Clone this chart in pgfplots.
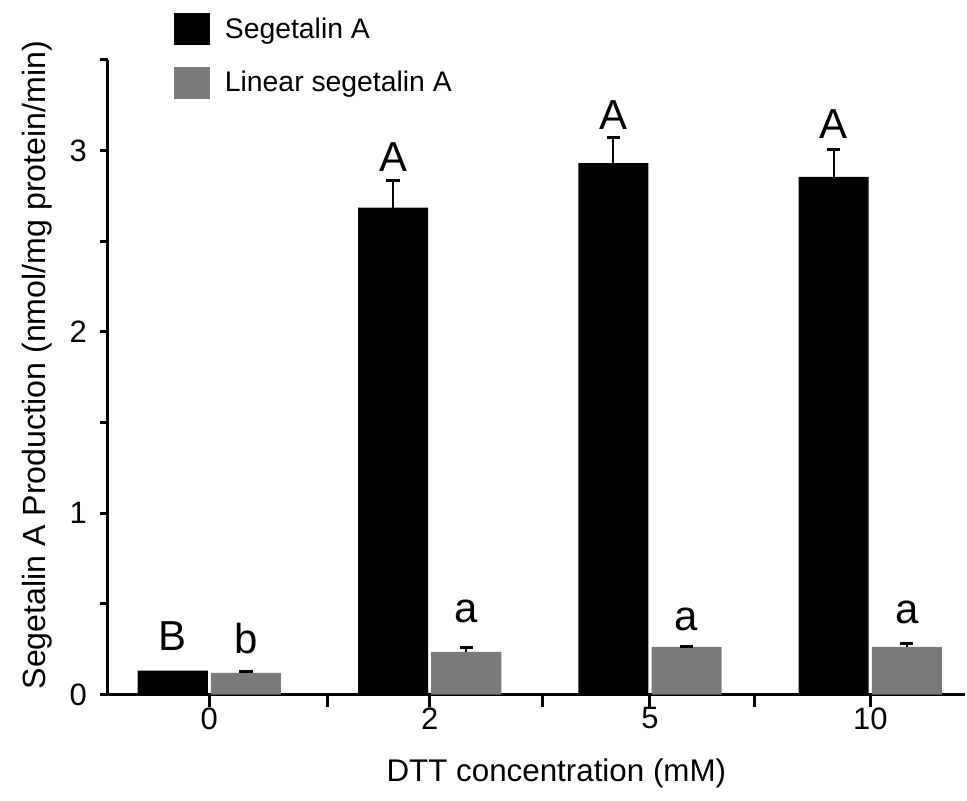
\documentclass[border=0pt]{standalone}
\usepackage{pgfplots}
\pgfplotsset{compat=1.18}
\usepackage{fontspec}
\setmainfont{Liberation Sans}
\usetikzlibrary{calc}
\definecolor{bargray}{RGB}{122,122,122}
\begin{document}
\begin{tikzpicture}
\begin{axis}[
  scale only axis, width=429.5pt, height=318pt,
  xmin=-0.461, xmax=3.43, ymin=0, ymax=3.5,
  ybar,
  axis lines*=left,
  axis line style={line width=1.5pt, black},
  tick align=outside,
  tick style={line width=1.5pt, black},
  xtick={0.535,1.51,2.475}, xticklabels={},
  major x tick style={/pgfplots/major tick length=6pt},
  extra x ticks={0,1,2,3}, extra x tick labels={0,2,5,10},
  extra x tick style={major tick length=0pt},
  ytick={0,1,2,3}, minor ytick={0.5,1.5,2.5,3.5},
  major tick length=4pt, minor tick length=4pt,
  /pgf/number format/assume math mode=true,
  tick label style={font=\fontsize{15.5}{18}\selectfont},
  xticklabel style={yshift=-3pt},
  yticklabel style={xshift=-3pt},
  xlabel={DTT concentration (mM)},
  ylabel={Segetalin A Production (nmol/mg protein/min)},
  xlabel style={font=\fontsize{15.7}{18}\selectfont, yshift=-4pt, xshift=10pt},
  ylabel style={font=\fontsize{16.1}{18}\selectfont, yshift=2pt, xshift=6pt},
  legend style={draw=none, fill=none, at={(0,1)}, anchor=north west,
    xshift=33pt, yshift=23.5pt, row sep=11pt, column sep=7.5pt, inner sep=0pt,
    font=\fontsize{14.2}{16}\selectfont,
    nodes={inner sep=0pt, anchor=west}},
  legend cell align=left,
  clip=false,
]
\addplot[fill=black, draw=none, bar width=0.318, bar shift=-0.166,
  legend image code/.code={\fill[black] (0pt,-8pt) rectangle (18pt,8pt);}]
  coordinates {(0,0.132) (1,2.685) (2,2.93) (3,2.855)};
\addlegendentry{Segetalin A}
\addplot[fill=bargray, draw=none, bar width=0.318, bar shift=0.166,
  legend image code/.code={\fill[bargray] (0pt,-8pt) rectangle (18pt,8pt);},
  error bars/.cd, y dir=plus, y explicit,
  error bar style={line width=1pt, black},
  error mark options={rotate=90, mark size=3.3pt, line width=1.5pt, black}]
  coordinates {(0,0.12) +- (0,0.008) (1,0.235) +- (0,0.022) (2,0.263) +- (0,0.004) (3,0.263) +- (0,0.018)};
\addlegendentry{Linear segetalin A}
\addplot[forget plot, fill=none, draw=none, bar width=0.318, bar shift=-0.166,
  error bars/.cd, y dir=plus, y explicit,
  error bar style={line width=1pt, black},
  error mark options={rotate=90, mark size=3.3pt, line width=1.5pt, black}]
  coordinates {(1,2.685) +- (0,0.15) (2,2.93) +- (0,0.14) (3,2.855) +- (0,0.15)};
\begin{scope}[every node/.style={font=\fontsize{21}{24}\selectfont, inner sep=0pt}]
\node at (axis cs:-0.166,0.325) {B};
\node at (axis cs:0.166,0.31) {b};
\node at (axis cs:0.834,2.966) {A};
\node at (axis cs:1.166,0.457) {a};
\node at (axis cs:1.834,3.197) {A};
\node at (axis cs:2.166,0.413) {a};
\node at (axis cs:2.834,3.148) {A};
\node at (axis cs:3.166,0.452) {a};
\end{scope}
\coordinate (O) at (rel axis cs:0,0);
\end{axis}
\path ($(O)+(-54pt,-53pt)$) rectangle ($(O)+(430.5pt,348pt)$);
\end{tikzpicture}
\end{document}
